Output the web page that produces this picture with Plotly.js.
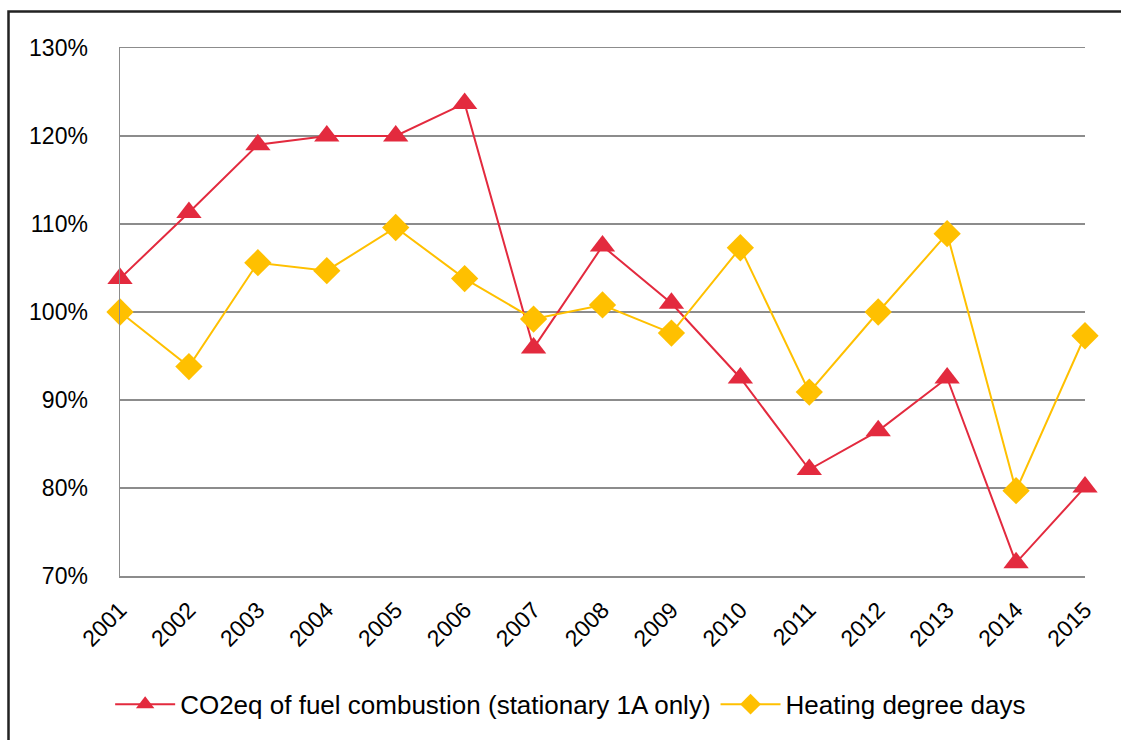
<!DOCTYPE html>
<html>
<head>
<meta charset="utf-8">
<script src="https://cdn.plot.ly/plotly-3.0.1.min.js"></script>
<style>html,body{margin:0;padding:0;background:#fff;}#chart{width:1121px;height:740px;}</style>
</head>
<body>
<div id="chart"></div>
<script>
const years = ['2001','2002','2003','2004','2005','2006','2007','2008','2009','2010','2011','2012','2013','2014','2015'];
const co2Values = [103.8, 111.3, 119.0, 120.0, 120.0, 123.7, 95.9, 107.5, 101.0, 92.5, 82.1, 86.5, 92.5, 71.5, 80.1];
const hddValues = [100.0, 93.8, 105.6, 104.7, 109.6, 103.8, 99.2, 100.8, 97.6, 107.3, 90.9, 100.0, 108.9, 79.7, 97.3];
const seriesNames = ['CO2eq of fuel combustion (stationary 1A only)', 'Heating degree days'];
const yTicks = [70, 80, 90, 100, 110, 120, 130];

const FONT = 'Liberation Sans, Arial, sans-serif';
const traces = [
  {
    x: years, y: co2Values, name: seriesNames[0], type: 'scatter', mode: 'lines+markers',
    line: {color: '#E32A3E', width: 2}, cliponaxis: false,
    marker: {symbol: 'triangle-up', size: 22, color: '#E32A3E'}
  },
  {
    x: years, y: hddValues, name: seriesNames[1], type: 'scatter', mode: 'lines+markers',
    line: {color: '#FFC000', width: 2}, cliponaxis: false,
    marker: {symbol: 'diamond', size: 21, color: '#FFC000'}
  }
];

const layout = {
  width: 1121, height: 740,
  margin: {l: 120, r: 36, t: 48, b: 164},
  paper_bgcolor: '#fff', plot_bgcolor: '#fff',
  font: {family: FONT, size: 23, color: '#000'},
  showlegend: true,
  legend: {orientation: 'h', x: 0.467, xanchor: 'center', y: -0.243, yanchor: 'middle',
           font: {family: FONT, size: 26, color: '#000'}, itemwidth: 60, traceorder: 'normal'},
  xaxis: {
    type: 'category', range: [0, 14], showgrid: false, zeroline: false,
    showline: true, mirror: true, linecolor: '#8c8c8c', linewidth: 1.5,
    tickangle: -45, ticks: '', ticklabelstandoff: 10,
    tickfont: {family: FONT, size: 23, color: '#000'}
  },
  yaxis: {
    range: [70, 130], tickvals: yTicks, ticktext: yTicks.map(v => v + '%'),
    showgrid: true, gridcolor: '#8c8c8c', gridwidth: 1.5, zeroline: false,
    showline: true, linecolor: '#8c8c8c', linewidth: 1.5,
    ticks: '', ticklabelstandoff: 26,
    tickfont: {family: FONT, size: 23, color: '#000'}
  },
  shapes: [
    {type: 'rect', xref: 'paper', yref: 'paper',
     x0: (8.5 - 120) / 965, x1: (1140 - 120) / 965,
     y0: (576 - 760) / 528, y1: (576 - 11.5) / 528,
     line: {color: '#222', width: 2.5}, fillcolor: 'rgba(0,0,0,0)', layer: 'below'}
  ]
};

Plotly.newPlot('chart', traces, layout, {displayModeBar: false, staticPlot: true});
</script>
</body>
</html>
